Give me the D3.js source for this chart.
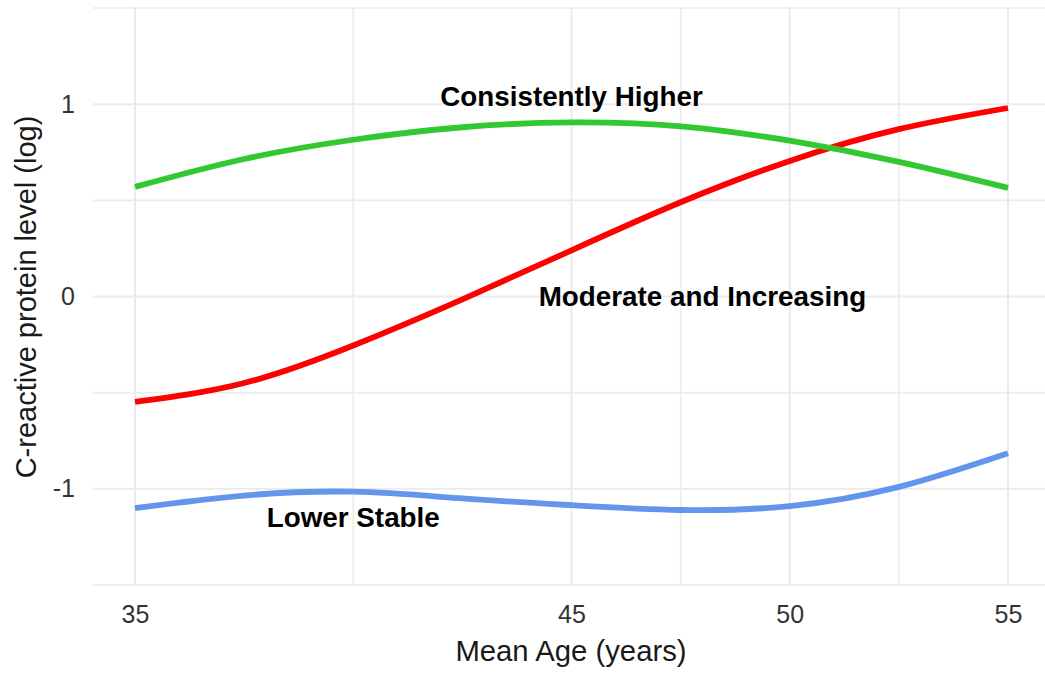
<!DOCTYPE html>
<html>
<head>
<meta charset="utf-8">
<script src="https://cdn.jsdelivr.net/npm/d3@7"></script>
<style>
  body { margin: 0; background: #fff; }
  svg { display: block; font-family: 'Liberation Sans', Arial, sans-serif; }
</style>
</head>
<body>
<div id="container"></div>
<script>
// values
const ages = [35, 37.5, 40, 42.5, 45, 47.5, 50, 52.5, 55];
const higher = [0.57, 0.715, 0.815, 0.88, 0.905, 0.885, 0.81, 0.70, 0.565];
const increasing = [-0.548, -0.45, -0.255, -0.015, 0.24, 0.49, 0.705, 0.87, 0.98];
const lowerStable = [-1.10, -1.035, -1.015, -1.05, -1.085, -1.11, -1.09, -0.99, -0.815];

const seriesNames = ['Lower Stable', 'Moderate and Increasing', 'Consistently Higher'];
const seriesColors = ['#6495ED', '#FF0000', '#32C832'];
const seriesValues = [lowerStable, increasing, higher];

const labelAges = [40, 48, 45];
const labelLevels = [-1.15, 0, 1.04];

const xTicks = [35, 45, 50, 55];
const xGrid = [35, 40, 45, 47.5, 50, 52.5, 55];
const yTicks = [-1, 0, 1];
const yGrid = [-1.5, -1, -0.5, 0, 0.5, 1, 1.5];

const width = 1045, height = 673;
const panel = { left: 93, right: 1052, top: 7, bottom: 585 };

const svg = d3.select('#container').append('svg')
  .attr('width', width)
  .attr('height', height);

const x = d3.scaleLinear().domain([35, 55]).range([135, 1008]);
const y = d3.scaleLinear().domain([-1.5, 1.5]).range([585, 8]);

// grid
const grid = svg.append('g').attr('class', 'grid');
grid.selectAll('line.h')
  .data(yGrid).enter()
  .append('line')
  .attr('x1', panel.left)
  .attr('x2', panel.right)
  .attr('y1', d => y(d))
  .attr('y2', d => y(d))
  .style('stroke', '#ebebeb')
  .style('stroke-width', d => Number.isInteger(d) ? 2 : 1.6);

grid.selectAll('line.v')
  .data(xGrid).enter()
  .append('line')
  .attr('x1', d => x(d))
  .attr('x2', d => x(d))
  .attr('y1', panel.top)
  .attr('y2', panel.bottom)
  .style('stroke', '#ebebeb')
  .style('stroke-width', d => xTicks.includes(d) ? 2 : 1.6);

// curves
const line = d3.line()
  .x(d => x(d[0]))
  .y(d => y(d[1]))
  .curve(d3.curveNatural);

svg.append('g')
  .selectAll('path')
  .data(seriesValues).enter()
  .append('path')
  .attr('d', vals => line(ages.map((a, i) => [a, vals[i]])))
  .style('fill', 'none')
  .style('stroke', (d, i) => seriesColors[i])
  .style('stroke-width', 5.8)
  .style('stroke-linecap', 'butt');

// labels on the curves
svg.append('g')
  .selectAll('text')
  .data(seriesNames).enter()
  .append('text')
  .attr('x', (d, i) => x(labelAges[i]))
  .attr('y', (d, i) => y(labelLevels[i]))
  .attr('dy', '0.35em')
  .attr('text-anchor', 'middle')
  .style('font-size', '27.8px')
  .style('font-weight', 'bold')
  .style('fill', '#000')
  .text(d => d);

// axes
const xAxis = svg.append('g')
  .attr('transform', `translate(0,${panel.bottom})`)
  .call(d3.axisBottom(x).tickValues(xTicks).tickSize(0).tickPadding(20).tickFormat(d3.format('d')));
xAxis.select('.domain').remove();
xAxis.selectAll('text')
  .style('font-size', '25px')
  .style('fill', '#333')
  .style('font-family', "'Liberation Sans', Arial, sans-serif");

const yAxis = svg.append('g')
  .attr('transform', `translate(${panel.left},0)`)
  .call(d3.axisLeft(y).tickValues(yTicks).tickSize(0).tickPadding(18).tickFormat(d => d < 0 ? '-' + Math.abs(d) : d));
yAxis.select('.domain').remove();
yAxis.selectAll('text')
  .style('font-size', '25px')
  .style('fill', '#333')
  .style('font-family', "'Liberation Sans', Arial, sans-serif");

// titles
svg.append('text')
  .attr('x', 571)
  .attr('y', 661)
  .attr('text-anchor', 'middle')
  .style('font-size', '29.3px')
  .style('fill', '#1a1a1a')
  .text('Mean Age (years)');

svg.append('text')
  .attr('transform', 'translate(36,297) rotate(-90)')
  .attr('text-anchor', 'middle')
  .style('font-size', '29px')
  .style('fill', '#1a1a1a')
  .text('C-reactive protein level (log)');
</script>
</body>
</html>
